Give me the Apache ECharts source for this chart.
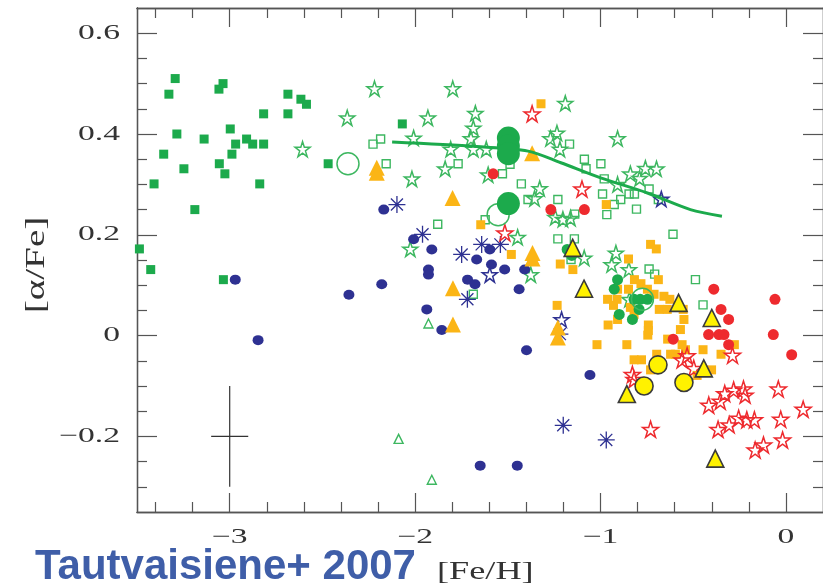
<!DOCTYPE html>
<html>
<head>
<meta charset="utf-8">
<script src="https://cdn.jsdelivr.net/npm/echarts@6/dist/echarts.min.js"></script>
<style>
html,body{margin:0;padding:0;background:#fff;}
#chart{width:823px;height:588px;}
</style>
</head>
<body>
<div id="chart"></div>
<script>
// ---- tick positions ----
const xMajorTicks = [-3, -2, -1, 0];
const xMinorTicks = [-3.4, -3.2, -2.8, -2.6, -2.4, -2.2, -1.8, -1.6, -1.4, -1.2, -0.8, -0.6, -0.4, -0.2];
const yMajorTicks = [-0.2, 0, 0.2, 0.4, 0.6];
const yMinorTicks = [-0.3, -0.25, -0.15, -0.1, -0.05, 0.05, 0.1, 0.15, 0.25, 0.3, 0.35, 0.45, 0.5, 0.55];
const xTickLabels = ['\u22123', '\u22122', '\u22121', '0'];
const yTickLabels = ['\u22120.2', '0', '0.2', '0.4', '0.6'];

// ---- data: [ [Fe/H], [alpha/Fe] ] ----
const haloSquares = [
  [-3.294, 0.510], [-3.328, 0.479], [-3.036, 0.500], [-3.058, 0.489], [-2.686, 0.479],
  [-2.616, 0.469], [-2.586, 0.459], [-2.817, 0.440], [-2.686, 0.440], [-2.069, 0.420],
  [-2.997, 0.410], [-3.285, 0.400], [-3.138, 0.390], [-2.909, 0.390], [-2.968, 0.380],
  [-2.876, 0.380], [-2.817, 0.380], [-3.356, 0.360], [-2.988, 0.360], [-3.056, 0.341],
  [-2.469, 0.341], [-3.247, 0.331], [-3.026, 0.321], [-3.408, 0.301], [-2.838, 0.301],
  [-3.188, 0.250], [-3.487, 0.172], [-3.426, 0.131], [-3.034, 0.111]
];
const greenOpenStars = [
  [-2.219, 0.490], [-1.797, 0.490], [-2.366, 0.432], [-1.931, 0.432], [-1.675, 0.441],
  [-1.686, 0.412], [-2.008, 0.392], [-1.699, 0.391], [-1.808, 0.370], [-1.686, 0.370],
  [-1.616, 0.370], [-2.607, 0.370], [-1.838, 0.331], [-2.017, 0.311], [-2.026, 0.172],
  [-1.190, 0.461], [-0.908, 0.391], [-1.270, 0.391], [-1.235, 0.402], [-1.219, 0.370],
  [-1.606, 0.319], [-1.328, 0.292], [-1.356, 0.272], [-0.839, 0.321], [-0.758, 0.332],
  [-0.698, 0.331], [-0.908, 0.300], [-0.789, 0.312], [-1.244, 0.235], [-1.203, 0.231],
  [-1.162, 0.233], [-1.447, 0.195], [-1.088, 0.154], [-0.917, 0.164], [-0.940, 0.141],
  [-0.847, 0.131], [-1.376, 0.121], [-0.844, 0.072]
];
const greenOpenSquares = [
  [-2.227, 0.380], [-2.186, 0.390], [-2.156, 0.341], [-1.768, 0.341], [-1.878, 0.221],
  [-1.529, 0.321], [-1.488, 0.340], [-1.427, 0.301], [-1.167, 0.380], [-1.087, 0.350],
  [-1.078, 0.331], [-0.998, 0.341], [-0.980, 0.311], [-0.989, 0.281], [-0.891, 0.270],
  [-0.926, 0.260], [-0.806, 0.251], [-0.966, 0.240], [-0.846, 0.281], [-0.817, 0.281],
  [-0.738, 0.291], [-0.688, 0.270], [-1.230, 0.270], [-1.391, 0.270], [-1.139, 0.241],
  [-0.609, 0.201], [-1.230, 0.192], [-1.141, 0.192], [-1.622, 0.230], [-1.686, 0.082],
  [-1.159, 0.151], [-0.738, 0.132], [-0.708, 0.122], [-0.488, 0.111], [-0.447, 0.061]
];
const greenOpenTriangles = [[-2.089, -0.205], [-1.910, -0.286], [-1.928, 0.024]];
const greenDots = [
  [-1.180, 0.171], [-1.155, 0.159], [-0.908, 0.111], [-0.926, 0.092], [-0.786, 0.072],
  [-0.747, 0.072], [-0.819, 0.072], [-0.792, 0.052], [-0.899, 0.042], [-0.828, 0.032]
];
const clusterFilled = [[-1.497, 0.392], [-1.497, 0.376], [-1.497, 0.361], [-1.497, 0.262]];
const clusterOpen = [[-2.362, 0.341], [-1.552, 0.240], [-0.774, 0.072]];
const modelCurve = [
  [-2.124, 0.384], [-1.668, 0.375], [-1.391, 0.366], [-1.214, 0.343], [-0.999, 0.313],
  [-0.747, 0.283], [-0.515, 0.250], [-0.345, 0.237]
];
const blueDots = [
  [-2.169, 0.250], [-2.008, 0.191], [-1.910, 0.171], [-1.928, 0.131], [-1.928, 0.121],
  [-1.668, 0.151], [-1.597, 0.171], [-1.588, 0.141], [-1.517, 0.131], [-1.409, 0.131],
  [-1.717, 0.111], [-1.677, 0.102], [-1.439, 0.092], [-2.970, 0.111], [-2.180, 0.102],
  [-2.357, 0.081], [-1.937, 0.052], [-1.856, 0.011], [-2.847, -0.009], [-1.399, -0.029],
  [-1.057, -0.078], [-1.649, -0.258], [-1.449, -0.258]
];
const blueAsterisks = [
  [-2.098, 0.260], [-1.960, 0.201], [-1.749, 0.161], [-1.641, 0.181], [-1.540, 0.181],
  [-1.718, 0.072], [-1.219, 0.003], [-1.201, -0.178], [-0.969, -0.207]
];
const blueOpenStars = [[-1.597, 0.121], [-1.210, 0.032], [-0.672, 0.271]];
const orangeTriangles = [
  [-2.207, 0.333], [-2.207, 0.323], [-1.798, 0.273], [-1.369, 0.362], [-1.367, 0.164],
  [-1.367, 0.153], [-1.796, 0.094], [-1.796, 0.022], [-1.230, 0.016], [-1.230, -0.004]
];
const orangeSquares = [
  [-1.321, 0.460], [-1.646, 0.220], [-1.481, 0.161], [-0.969, 0.260], [-0.730, 0.181],
  [-0.699, 0.172], [-0.849, 0.152], [-1.217, 0.142], [-1.149, 0.131], [-0.817, 0.111],
  [-0.782, 0.103], [-0.747, 0.092], [-0.711, 0.082], [-0.688, 0.111], [-0.908, 0.092],
  [-0.849, 0.092], [-0.658, 0.078], [-0.962, 0.072], [-0.911, 0.072], [-0.930, 0.060],
  [-0.839, 0.056], [-0.819, 0.042], [-0.908, 0.032], [-0.959, 0.021], [-0.683, 0.052],
  [-0.640, 0.052], [-0.626, 0.072], [-0.554, 0.052], [-0.550, 0.032], [-0.569, 0.012],
  [-0.742, 0.021], [-0.742, 0.010], [-0.745, 0.001], [-0.638, -0.007], [-1.019, -0.018],
  [-0.858, -0.018], [-0.560, -0.018], [-0.542, -0.028], [-0.447, -0.028], [-0.622, -0.037],
  [-0.596, -0.037], [-0.697, -0.037], [-0.350, -0.037], [-0.278, -0.018], [-0.819, -0.048],
  [-0.779, -0.048], [-0.730, -0.068], [-0.401, -0.068], [-0.479, -0.079], [-1.234, 0.060]
];
const redDots = [
  [-1.579, 0.321], [-1.268, 0.250], [-1.087, 0.250], [-0.389, 0.092], [-0.059, 0.072],
  [-0.350, 0.052], [-0.309, 0.032], [-0.417, 0.002], [-0.361, 0.002], [-0.334, 0.002],
  [-0.068, 0.002], [-0.309, -0.018], [0.031, -0.038], [-0.608, -0.007]
];
const redOpenStars = [
  [-1.369, 0.440], [-1.100, 0.291], [-1.516, 0.204], [-0.288, -0.039], [-0.560, -0.048],
  [-0.533, -0.040], [-0.497, -0.065], [-0.828, -0.077], [-0.819, -0.087], [-0.416, -0.138],
  [-0.354, -0.130], [-0.330, -0.115], [-0.282, -0.108], [-0.229, -0.106], [-0.220, -0.118],
  [-0.041, -0.106], [0.093, -0.146], [-0.730, -0.186], [-0.366, -0.186], [-0.306, -0.177],
  [-0.255, -0.164], [-0.211, -0.167], [-0.170, -0.167], [-0.028, -0.166], [-0.018, -0.207],
  [-0.166, -0.227], [-0.121, -0.217]
];
const yellowDots = [[-0.690, -0.058], [-0.765, -0.100], [-0.550, -0.093]];
const yellowTriangles = [
  [-1.150, 0.174], [-1.089, 0.093], [-0.579, 0.065], [-0.400, 0.035], [-0.443, -0.065],
  [-0.858, -0.116], [-0.381, -0.244]
];
// typical error bar: centre and half-widths
const errorCentre = [-3.0, -0.2];
const errorHalf = [0.1, 0.1];

// ---- styling ----
const GREEN = '#1caa4c', GREEN_LT = '#3db760', NAVY = '#2e3192', ORANGE = '#fbb516',
      RED = '#ee2a2e', YELLOW = '#fff200', EDGE = '#3a3a3a', AXIS = '#555', INK = '#333';
const STAR = 'path://M50,0 L61.2,34.5 L97.6,34.5 L68.2,55.9 L79.4,90.5 L50,69.1 L20.6,90.5 L31.8,55.9 L2.4,34.5 L38.8,34.5 Z';
const ASTER = 'path://M50,0 L50,100 M0,50 L100,50 M14.6,14.6 L85.4,85.4 M14.6,85.4 L85.4,14.6';
const CLEAR = 'rgba(255,255,255,0)';
const X_RANGE = [-3.5, 0.2], Y_RANGE = [-0.35, 0.65];
const TICK_FONT = '21px "Liberation Serif"', TICK_STRETCH = 1.6;

function xAxisDef(pos, ticks, len) {
  return {
    type: 'value', min: X_RANGE[0], max: X_RANGE[1], position: pos,
    axisLine: { show: true, onZero: false, lineStyle: { color: AXIS, width: 1.3 } },
    axisTick: { show: true, inside: true, length: len, customValues: ticks, lineStyle: { color: AXIS, width: 1.2 } },
    axisLabel: { show: false }, splitLine: { show: false }
  };
}
function yAxisDef(pos, ticks, len) {
  return {
    type: 'value', min: Y_RANGE[0], max: Y_RANGE[1], position: pos,
    axisLine: { show: true, onZero: false, lineStyle: { color: AXIS, width: 1.3 } },
    axisTick: { show: true, inside: true, length: len, customValues: ticks, lineStyle: { color: AXIS, width: 1.2 } },
    axisLabel: { show: false }, splitLine: { show: false }
  };
}

function scatter(data, symbol, size, fill, stroke, bw, z) {
  return {
    type: 'scatter', data: data, symbol: symbol, symbolSize: size, z: z || 2,
    itemStyle: { color: fill, borderColor: stroke || fill, borderWidth: bw || 0, opacity: 1 },
    emphasis: { disabled: true }, silent: true, animation: false
  };
}

const chart = echarts.init(document.getElementById('chart'), null, { renderer: 'canvas' });
chart.setOption({
  backgroundColor: '#fff',
  animation: false,
  grid: { left: 137, top: 8, width: 690, height: 504, containLabel: false },
  xAxis: [
    xAxisDef('bottom', xMajorTicks, 19),
    xAxisDef('bottom', xMinorTicks, 10),
    xAxisDef('top', xMajorTicks, 19),
    xAxisDef('top', xMinorTicks, 10)
  ],
  yAxis: [
    yAxisDef('left', yMajorTicks, 20),
    yAxisDef('left', yMinorTicks, 10),
    yAxisDef('right', yMajorTicks, 20),
    yAxisDef('right', yMinorTicks, 10)
  ],
  series: [
    scatter(haloSquares, 'rect', 9, GREEN),
    scatter(greenOpenStars, STAR, 15, CLEAR, GREEN_LT, 1.5),
    scatter(greenOpenSquares, 'rect', 8, CLEAR, GREEN_LT, 1.4),
    scatter(greenOpenTriangles, 'triangle', 9, CLEAR, GREEN_LT, 1.4),
    {
      type: 'line', data: modelCurve, smooth: 0.3, symbol: 'none', z: 3,
      lineStyle: { color: GREEN, width: 3 }, silent: true, animation: false
    },
    {
      type: 'line', symbol: 'none', z: 3, silent: true, animation: false,
      lineStyle: { color: INK, width: 1.2 }, connectNulls: false,
      data: [
        [errorCentre[0] - errorHalf[0], errorCentre[1]], [errorCentre[0] + errorHalf[0], errorCentre[1]], '-',
        [errorCentre[0], errorCentre[1] + errorHalf[1]], [errorCentre[0], errorCentre[1] - errorHalf[1]]
      ]
    },
    scatter(blueDots, 'circle', [11, 10], NAVY),
    scatter(blueAsterisks, ASTER, 17, CLEAR, NAVY, 1.3),
    scatter(blueOpenStars, STAR, 15, CLEAR, NAVY, 1.5),
    scatter(orangeSquares, 'rect', 9, ORANGE),
    scatter(orangeTriangles, 'triangle', 16, ORANGE),
    scatter(greenDots, 'circle', 11, GREEN),
    scatter(redDots, 'circle', 11, RED),
    scatter(redOpenStars, STAR, 16, CLEAR, RED, 1.5),
    scatter(clusterOpen, 'circle', 22, CLEAR, GREEN_LT, 1.5, 4),
    scatter(clusterFilled, 'circle', 23, GREEN, GREEN, 0, 4),
    scatter(yellowDots, 'circle', 18, YELLOW, EDGE, 1.6, 5),
    scatter(yellowTriangles, 'triangle', 17, YELLOW, EDGE, 1.6, 5)
  ]
});

// Tick labels are set as wide serif text placed through the axis scales.
const px = v => chart.convertToPixel({ xAxisIndex: 0 }, v);
const py = v => chart.convertToPixel({ yAxisIndex: 0 }, v);
const plotLeft = px(X_RANGE[0]);
const plotBottom = py(Y_RANGE[0]);
const labels = [];
xMajorTicks.forEach((v, i) => labels.push({
  type: 'text', x: px(v), y: plotBottom + 25, scaleX: TICK_STRETCH, silent: true,
  style: { text: xTickLabels[i], font: TICK_FONT, fill: INK, align: 'center', verticalAlign: 'middle' }
}));
yMajorTicks.forEach((v, i) => labels.push({
  type: 'text', x: plotLeft - 17, y: py(v), scaleX: TICK_STRETCH, silent: true,
  style: { text: yTickLabels[i], font: TICK_FONT, fill: INK, align: 'right', verticalAlign: 'middle' }
}));
labels.push(
  {
    type: 'text', x: 37, y: 265, rotation: Math.PI / 2, scaleX: 1.4, silent: true,
    style: { text: '[\u03b1/Fe]', font: '28px "Liberation Serif"', fill: INK, align: 'center', verticalAlign: 'middle' }
  },
  {
    type: 'text', x: 437, y: 572, scaleX: 1.45, silent: true,
    style: { text: '[Fe/H]', font: '25px "Liberation Serif"', fill: INK, align: 'left', verticalAlign: 'middle' }
  },
  {
    type: 'text', x: 35, y: 567, silent: true,
    style: { text: 'Tautvaisiene+ 2007', font: 'bold 42px "Liberation Sans"', fill: '#3f5ea8', align: 'left', verticalAlign: 'middle' }
  }
);
chart.setOption({ graphic: labels });
</script>
</body>
</html>
